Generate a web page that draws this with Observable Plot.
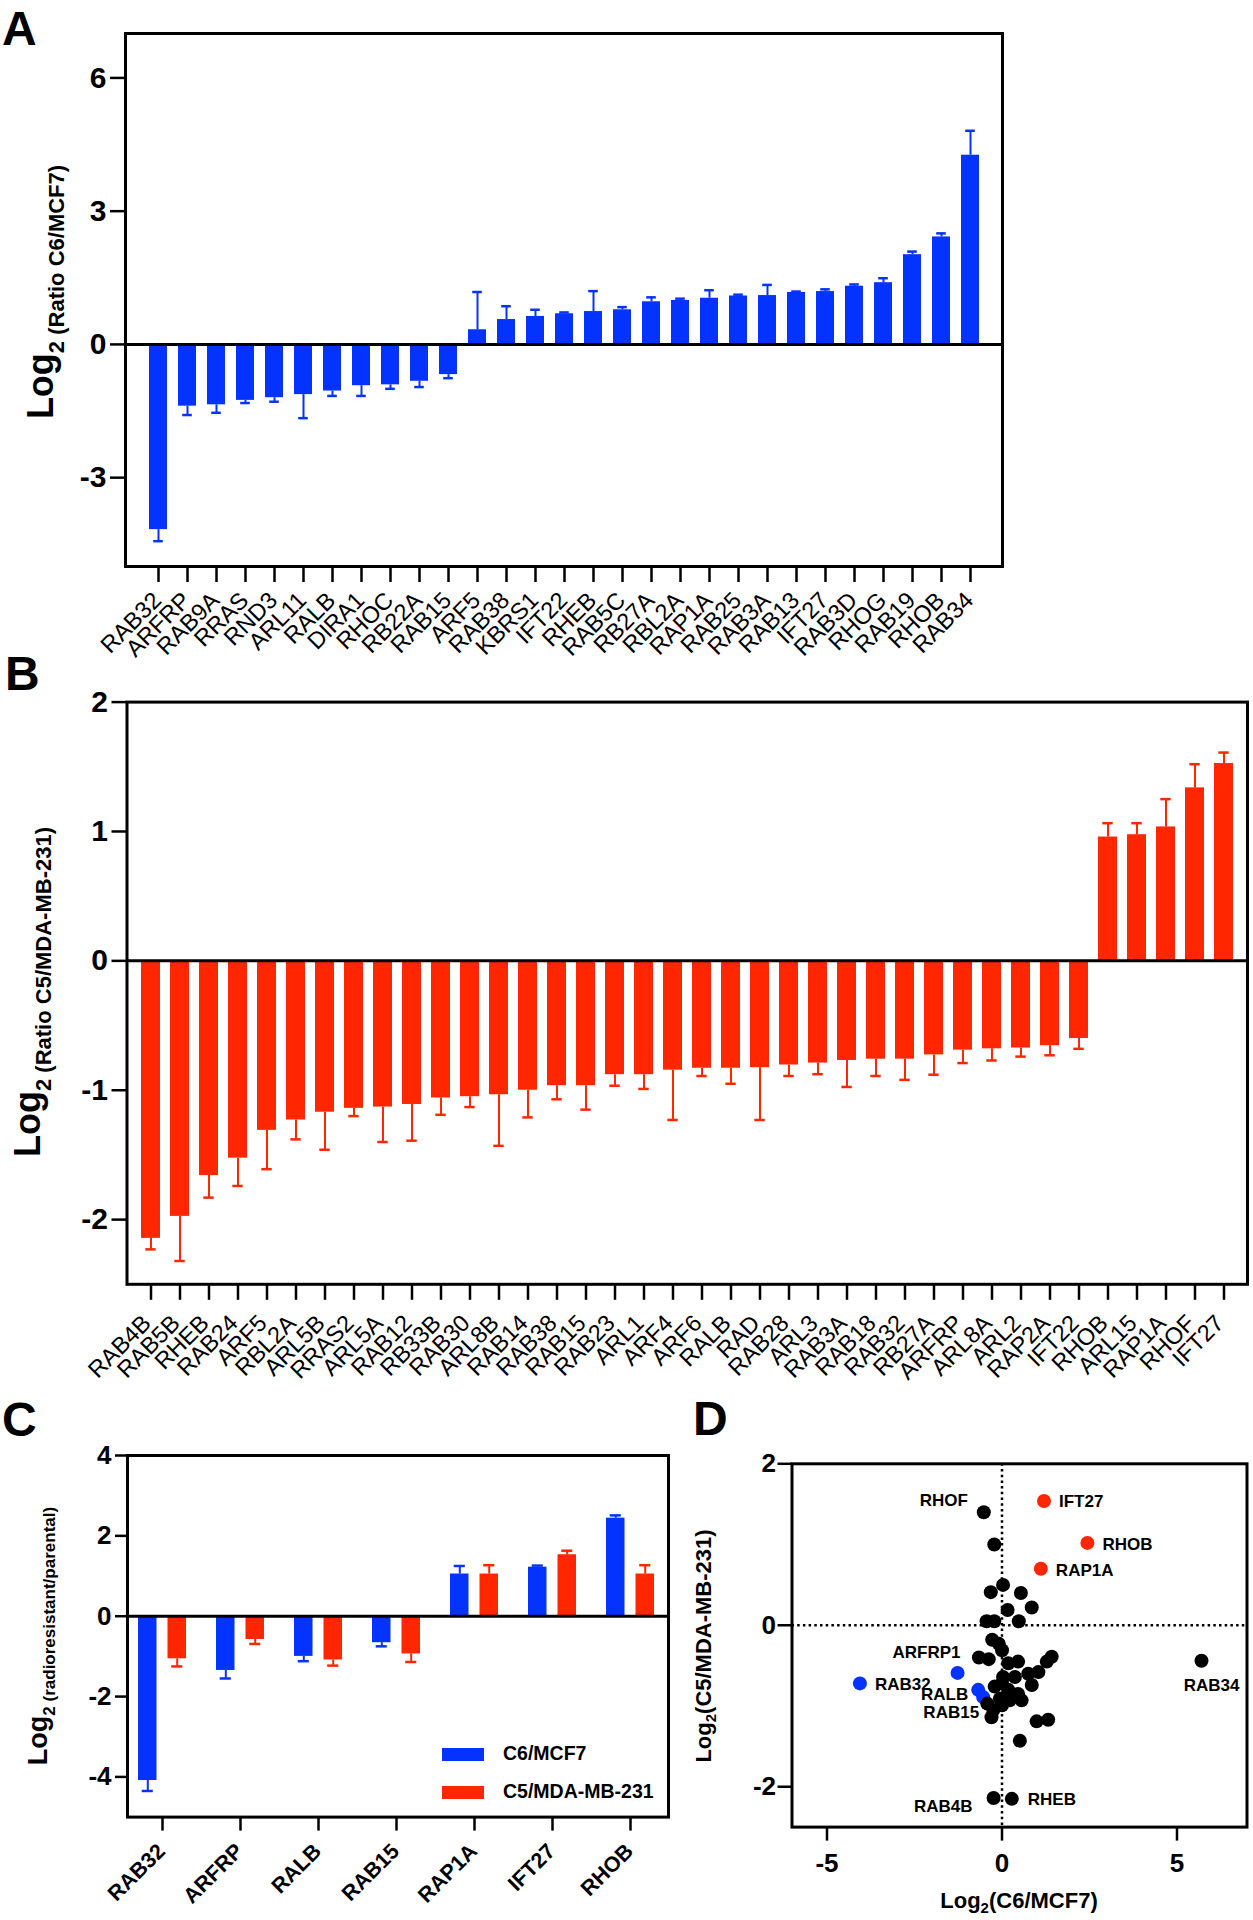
<!DOCTYPE html>
<html>
<head>
<meta charset="utf-8">
<script src="https://cdn.jsdelivr.net/npm/d3@7"></script>
<script src="https://cdn.jsdelivr.net/npm/@observablehq/plot@0.6"></script>
<style>
  body { margin:0; background:#fff; width:1253px; height:1920px; position:relative; overflow:hidden;
         font-family:"Liberation Sans", Arial, Helvetica, sans-serif; color:#000; }
  .panel { position:absolute; }
  .panel svg { overflow:visible; }
  .letter { position:absolute; font-size:48px; font-weight:bold; line-height:1; }
  .ytitle { position:absolute; transform:translate(-50%,-50%) rotate(-90deg); white-space:nowrap; font-weight:bold; line-height:1; }
  .xtitle { position:absolute; transform:translateX(-50%); white-space:nowrap; font-weight:bold; line-height:1; }
  .sw { position:absolute; width:42px; height:13px; }
  .lg { position:absolute; font-size:19.5px; font-weight:bold; line-height:1; white-space:nowrap; }
  .panel [aria-label^="x-axis"] path, .panel [aria-label^="x-axis"] line,
  .panel [aria-label^="y-axis"] path, .panel [aria-label^="y-axis"] line { stroke-width:2.5px !important; stroke:#000; }
  #pA [aria-label^="y-axis"] text, #pB [aria-label^="y-axis"] text { font-size:30px; font-weight:bold; }
  #pC [aria-label^="y-axis"] text, #pD [aria-label^="y-axis"] text, #pD [aria-label^="x-axis"] text { font-size:26px; font-weight:bold; }
</style>
</head>
<body>
<div id="pA" class="panel" style="left:0;top:0"></div>
<div id="pB" class="panel" style="left:0;top:680px"></div>
<div id="pC" class="panel" style="left:0;top:1380px"></div>
<div id="pD" class="panel" style="left:680px;top:1380px"></div>

<div class="letter" style="left:2px;top:5px">A</div>
<div class="letter" style="left:5px;top:650px">B</div>
<div class="letter" style="left:2px;top:1396px">C</div>
<div class="letter" style="left:693px;top:1395px">D</div>

<div class="ytitle" style="left:41px;top:292px"><span style="font-size:36px">Log</span><span style="font-size:22px;position:relative;top:11px">2 (Ratio C6/MCF7)</span></div>
<div class="ytitle" style="left:28px;top:992px"><span style="font-size:36px">Log</span><span style="font-size:22px;position:relative;top:11px">2 (Ratio C5/MDA-MB-231)</span></div>
<div class="ytitle" style="left:38px;top:1636px"><span style="font-size:27px">Log</span><span style="font-size:17px;position:relative;top:8px">2 (radioresistant/parental)</span></div>
<div class="ytitle" style="left:704px;top:1646px"><span style="font-size:22px">Log</span><span style="font-size:15px;position:relative;top:5px">2</span><span style="font-size:22px">(C5/MDA-MB-231)</span></div>
<div class="xtitle" style="left:1019px;top:1890px"><span style="font-size:22px">Log</span><span style="font-size:15px;position:relative;top:5px">2</span><span style="font-size:22px">(C6/MCF7)</span></div>

<div id="legend"></div>

<script>
// ---------- Panel A: Log2 (Ratio C6/MCF7) ----------
const genesA = ["RAB32","ARFRP","RAB9A","RRAS","RND3","ARL11","RALB","DIRA1","RHOC","RB22A","RAB15","ARF5","RAB38","KBRS1","IFT22","RHEB","RAB5C","RB27A","RBL2A","RAP1A","RAB25","RAB3A","RAB13","IFT27","RAB3D","RHOG","RAB19","RHOB","RAB34"];
const valuesA = [-4.17,-1.39,-1.36,-1.26,-1.20,-1.13,-1.05,-0.93,-0.91,-0.83,-0.68,0.33,0.56,0.63,0.69,0.74,0.78,0.96,0.99,1.04,1.09,1.10,1.17,1.19,1.31,1.39,2.02,2.42,4.26];
const errorsA = [0.26,0.20,0.18,0.06,0.09,0.53,0.11,0.23,0.09,0.13,0.08,0.85,0.30,0.15,0.03,0.46,0.06,0.10,0.04,0.18,0.03,0.24,0.02,0.05,0.04,0.10,0.07,0.08,0.55];
const ticksA = [-3,0,3,6];

// ---------- Panel B: Log2 (Ratio C5/MDA-MB-231) ----------
const genesB = ["RAB4B","RAB5B","RHEB","RAB24","ARF5","RBL2A","ARL5B","RRAS2","ARL5A","RAB12","RB33B","RAB30","ARL8B","RAB14","RAB38","RAB15","RAB23","ARL1","ARF4","ARF6","RALB","RAD","RAB28","ARL3","RAB3A","RAB18","RAB32","RB27A","ARFRP","ARL8A","ARL2","RAP2A","IFT22","RHOB","ARL15","RAP1A","RHOF","IFT27"];
const valuesB = [-2.145,-1.975,-1.66,-1.525,-1.31,-1.23,-1.17,-1.14,-1.13,-1.11,-1.06,-1.05,-1.035,-1.0,-0.965,-0.965,-0.88,-0.88,-0.845,-0.83,-0.83,-0.826,-0.805,-0.79,-0.77,-0.76,-0.76,-0.727,-0.69,-0.68,-0.674,-0.656,-0.60,0.957,0.975,1.035,1.337,1.525];
const errorsB = [0.085,0.345,0.17,0.215,0.30,0.15,0.29,0.06,0.27,0.28,0.13,0.08,0.395,0.21,0.105,0.185,0.085,0.11,0.385,0.06,0.12,0.404,0.085,0.086,0.205,0.13,0.16,0.153,0.10,0.09,0.066,0.074,0.08,0.107,0.089,0.215,0.183,0.085];
const ticksB = [-2,-1,0,1,2];

// ---------- Panel C: selected GTPases ----------
const genesC = ["RAB32","ARFRP","RALB","RAB15","RAP1A","IFT27","RHOB"];
const seriesC = ["C6/MCF7","C5/MDA-MB-231"];
const c6Values = [-4.09,-1.35,-1.00,-0.66,1.05,1.22,2.44];
const c6Errors = [0.26,0.20,0.12,0.09,0.20,0.04,0.07];
const c5Values = [-1.06,-0.58,-1.09,-0.94,1.05,1.53,1.05];
const c5Errors = [0.19,0.11,0.14,0.20,0.22,0.10,0.22];
const ticksC = [-4,-2,0,2,4];

// ---------- Panel D: scatter ----------
const labelD = ["RHOF","IFT27","RHOB","RAP1A","RAB32","ARFRP1","RALB","RAB15","RAB34","RAB4B","RHEB",
  "","","","","","","","","","","","","","","","","","","","","","","","","","","","","","","","","","","","",""];
const groupD = ["other","up","up","up","down","down","down","down","other","other","other",
  "other","other","other","other","other","other","other","other","other","other","other","other","other","other","other","other","other","other","other","other","other","other","other","other","other","other","other","other","other","other","other","other","other","other","other","other","other","other"];
const xD = [-0.52,1.20,2.44,1.11,-4.06,-1.27,-0.68,-0.54,5.70,-0.24,0.28,
  -0.22,0.03,-0.32,0.54,0.16,0.85,-0.44,-0.22,0.48,-0.28,-0.09,0.00,-0.66,-0.38,0.18,0.46,1.42,1.28,1.04,0.75,0.85,0.03,0.37,-0.21,0.00,0.18,0.46,0.56,0.22,-0.06,-0.42,-0.25,0.00,-0.30,0.99,1.32,0.51];
const yD = [1.40,1.54,1.02,0.70,-0.72,-0.59,-0.80,-0.89,-0.44,-2.14,-2.15,
  1.00,0.50,0.41,0.40,0.19,0.22,0.05,0.05,0.05,-0.18,-0.23,-0.31,-0.40,-0.42,-0.47,-0.45,-0.39,-0.45,-0.58,-0.60,-0.74,-0.64,-0.64,-0.76,-0.72,-0.80,-0.85,-0.93,-0.93,-0.91,-0.97,-1.05,-0.99,-1.14,-1.19,-1.17,-1.43];
const ticksDx = [-5,0,5];
const ticksDy = [-2,0,2];

// ---------- styling ----------
const blue = "#0433ff", red = "#ff2600";
const font = "'Liberation Sans', Arial, Helvetica, sans-serif";
const baseStyle = (size) => ({fontFamily: font, fontSize: size + "px", fontWeight: "bold", color: "#000", background: "transparent", overflow: "visible"});
const fmt = d => String(d);
const blank = () => "";
const endOf = d => d.value + Math.sign(d.value) * d.err;
// rotated category labels under the frame, placed through the x scale
const catLabels = (genes, {dy, dx = 0, size, weight}) =>
  Plot.text(genes, {x: d => d, text: d => d, frameAnchor: "bottom", rotate: -45, textAnchor: "end", lineAnchor: "middle",
    dx, dy, fontSize: size, fontWeight: weight, fill: "#000"});

// Panel A
const dataA = genesA.map((g, i) => ({gene: g, value: valuesA[i], err: errorsA[i]}));
document.getElementById("pA").append(Plot.plot({
  width: 1040, height: 680,
  marginLeft: 125, marginRight: 38, marginTop: 33, marginBottom: 114,
  style: baseStyle(30),
  x: {domain: genesA, padding: 0.385, label: null, tickSize: 16, tickFormat: blank},
  y: {domain: [-5, 7], ticks: ticksA, tickFormat: fmt, tickSize: 15, tickPadding: 4, label: null},
  marks: [
    Plot.ruleX(dataA, {x: "gene", y1: "value", y2: endOf, stroke: blue, strokeWidth: 2}),
    Plot.tickY(dataA, {x: "gene", y: endOf, stroke: blue, strokeWidth: 2.5, insetLeft: 4.2, insetRight: 4.2}),
    Plot.barY(dataA, {x: "gene", y: "value", fill: blue}),
    Plot.ruleY([0], {stroke: "#000", strokeWidth: 3}),
    Plot.frame({stroke: "#000", strokeWidth: 3}),
    catLabels(genesA, {dy: 30, dx: -1, size: 23.5, weight: "normal"})
  ]
}));

// Panel B
const dataB = genesB.map((g, i) => ({gene: g, value: valuesB[i], err: errorsB[i]}));
document.getElementById("pB").append(Plot.plot({
  width: 1253, height: 700,
  marginLeft: 126.5, marginRight: 6, marginTop: 21.6, marginBottom: 96.2,
  style: baseStyle(30),
  x: {domain: genesB, padding: 0.33, label: null, tickSize: 16, tickFormat: blank},
  y: {domain: [-2.5, 2], ticks: ticksB, tickFormat: fmt, tickSize: 15, tickPadding: 4, label: null},
  marks: [
    Plot.ruleX(dataB, {x: "gene", y1: "value", y2: endOf, stroke: red, strokeWidth: 2}),
    Plot.tickY(dataB, {x: "gene", y: endOf, stroke: red, strokeWidth: 2.5, insetLeft: 4.3, insetRight: 4.3}),
    Plot.barY(dataB, {x: "gene", y: "value", fill: red}),
    Plot.ruleY([0], {stroke: "#000", strokeWidth: 3}),
    Plot.frame({stroke: "#000", strokeWidth: 3}),
    catLabels(genesB, {dy: 35, dx: -4, size: 23.5, weight: "normal"})
  ]
}));

// Panel C
const dataC = genesC.flatMap((g, i) => [
  {gene: g, series: seriesC[0], value: c6Values[i], err: c6Errors[i]},
  {gene: g, series: seriesC[1], value: c5Values[i], err: c5Errors[i]}
]);
const c6 = dataC.filter(d => d.series === seriesC[0]);
const c5 = dataC.filter(d => d.series === seriesC[1]);
document.getElementById("pC").append(Plot.plot({
  width: 690, height: 540,
  marginLeft: 127, marginRight: 22, marginTop: 75, marginBottom: 103.4,
  style: baseStyle(26),
  color: {domain: seriesC, range: [blue, red]},
  x: {domain: genesC, paddingInner: 0.38, paddingOuter: 0.12, align: 0.45, label: null, tickSize: 14, tickFormat: blank},
  y: {domain: [-5, 4], ticks: ticksC, tickFormat: fmt, tickSize: 12, tickPadding: 4, label: null},
  marks: [
    Plot.ruleX(c6, {x: "gene", y1: "value", y2: endOf, stroke: "series", strokeWidth: 2, dx: -14.7}),
    Plot.tickY(c6, {x: "gene", y: endOf, stroke: "series", strokeWidth: 2.5, insetLeft: 3.7, insetRight: 33.2}),
    Plot.ruleX(c5, {x: "gene", y1: "value", y2: endOf, stroke: "series", strokeWidth: 2, dx: 14.7}),
    Plot.tickY(c5, {x: "gene", y: endOf, stroke: "series", strokeWidth: 2.5, insetLeft: 33.2, insetRight: 3.7}),
    Plot.barY(c6, {x: "gene", y: "value", fill: "series", insetLeft: 0, insetRight: 29.5}),
    Plot.barY(c5, {x: "gene", y: "value", fill: "series", insetLeft: 29.5, insetRight: 0}),
    Plot.ruleY([0], {stroke: "#000", strokeWidth: 3}),
    Plot.frame({stroke: "#000", strokeWidth: 3}),
    catLabels(genesC, {dy: 30.5, dx: -1, size: 21.5, weight: "bold"})
  ]
}));

// Legend for panel C (inside the plot area)
const legend = document.getElementById("legend");
[[seriesC[0], blue, 1748], [seriesC[1], red, 1786]].forEach(([name, col, top]) => {
  const sw = document.createElement("div");
  sw.className = "sw"; sw.style.left = "442px"; sw.style.top = top + "px"; sw.style.background = col;
  const tx = document.createElement("div");
  tx.className = "lg"; tx.style.left = "503px"; tx.style.top = (top - 4) + "px"; tx.textContent = name;
  legend.append(sw, tx);
});

// Panel D
const dataD = xD.map((x, i) => ({x, y: yD[i], label: labelD[i], group: groupD[i]}));
const labelStyle = {
  RHOF: ["end", -16, -12], IFT27: ["start", 15, 1], RHOB: ["start", 15, 2], RAP1A: ["start", 15, 2],
  ARFRP1: ["end", 3, -20], RAB32: ["start", 15, 1.5], RALB: ["end", -10, 5], RAB15: ["end", -4, 15],
  RAB34: ["middle", 10, 25], RAB4B: ["end", -21, 9], RHEB: ["start", 16, 1]
};
const labelMarks = Object.entries(labelStyle).map(([name, [anchor, dx, dy]]) =>
  Plot.text(dataD.filter(d => d.label === name), {x: "x", y: "y", text: "label", textAnchor: anchor, dx, dy,
    fontSize: 17, fontWeight: "bold", fill: "#000"}));
document.getElementById("pD").append(Plot.plot({
  width: 573, height: 540,
  marginLeft: 111.5, marginRight: 6.5, marginTop: 83.3, marginBottom: 93.4,
  style: baseStyle(26),
  color: {domain: ["other", "up", "down"], range: ["#000", red, blue]},
  x: {domain: [-6, 7], ticks: ticksDx, tickFormat: fmt, tickSize: 14, tickPadding: 12, label: null},
  y: {domain: [-2.5, 2], ticks: ticksDy, tickFormat: fmt, tickSize: 14, tickPadding: 2, label: null},
  marks: [
    Plot.ruleX([0], {stroke: "#000", strokeWidth: 2.5, strokeDasharray: "2.5,3.2"}),
    Plot.ruleY([0], {stroke: "#000", strokeWidth: 2.5, strokeDasharray: "2.5,3.2"}),
    Plot.dot(dataD.filter(d => d.group === "down"), {x: "x", y: "y", r: 7, fill: "group"}),
    Plot.dot(dataD.filter(d => d.group === "other"), {x: "x", y: "y", r: 7, fill: "group"}),
    Plot.dot(dataD.filter(d => d.group === "up"), {x: "x", y: "y", r: 7, fill: "group"}),
    ...labelMarks,
    Plot.frame({stroke: "#000", strokeWidth: 3})
  ]
}));
</script>
</body>
</html>
